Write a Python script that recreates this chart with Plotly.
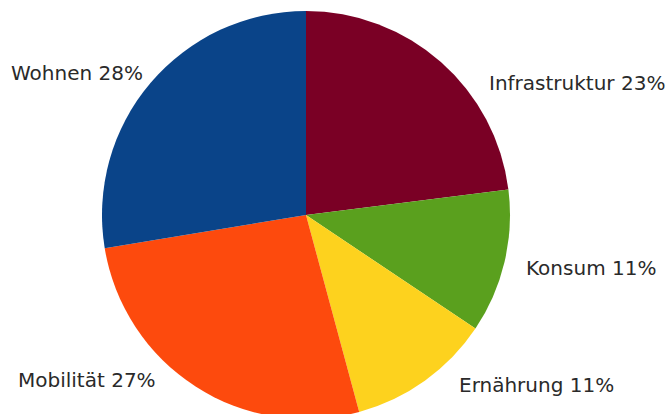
import plotly.graph_objects as go

categories = ["Infrastruktur", "Konsum", "Ernährung", "Mobilität", "Wohnen"]
values = [23.0, 11.4, 11.4, 26.6, 27.6]
colors = ["#7a0025", "#5aa01e", "#fdd21e", "#fd4a0d", "#0a4489"]

# figure geometry (pixels)
W, H = 668, 430
ML, MR, MT, MB = 0, 56, 11, 11
PW, PH = W - ML - MR, H - MT - MB

# label anchor placement (pixels) and horizontal anchor
label_px = [(488, 83, "left"), (525, 268, "left"), (458, 385, "left"),
            (157, 380, "right"), (144, 73, "right")]

total = sum(values)

fig = go.Figure(
    go.Pie(
        labels=categories,
        values=values,
        sort=False,
        direction="clockwise",
        rotation=0,
        marker=dict(colors=colors, line=dict(width=0)),
        textinfo="none",
        showlegend=False,
        hoverinfo="label+percent",
    )
)

for cat, val, (px, py, anchor) in zip(categories, values, label_px):
    pct = round(100 * val / total)
    fig.add_annotation(
        x=(px - ML) / PW,
        y=1 - (py - MT) / PH,
        xref="paper",
        yref="paper",
        text=f"{cat} {pct}%",
        showarrow=False,
        xanchor=anchor,
        yanchor="middle",
        font=dict(family="DejaVu Sans", size=20, color="#2a2a2a"),
        borderpad=0,
    )

fig.update_layout(
    width=W,
    height=H,
    margin=dict(l=ML, r=MR, t=MT, b=MB),
    paper_bgcolor="white",
    plot_bgcolor="white",
)
fig.write_html(
    "out.html",
    post_script="document.documentElement.style.overflow='hidden';document.body.style.overflow='hidden';document.body.style.margin='0';",
)
